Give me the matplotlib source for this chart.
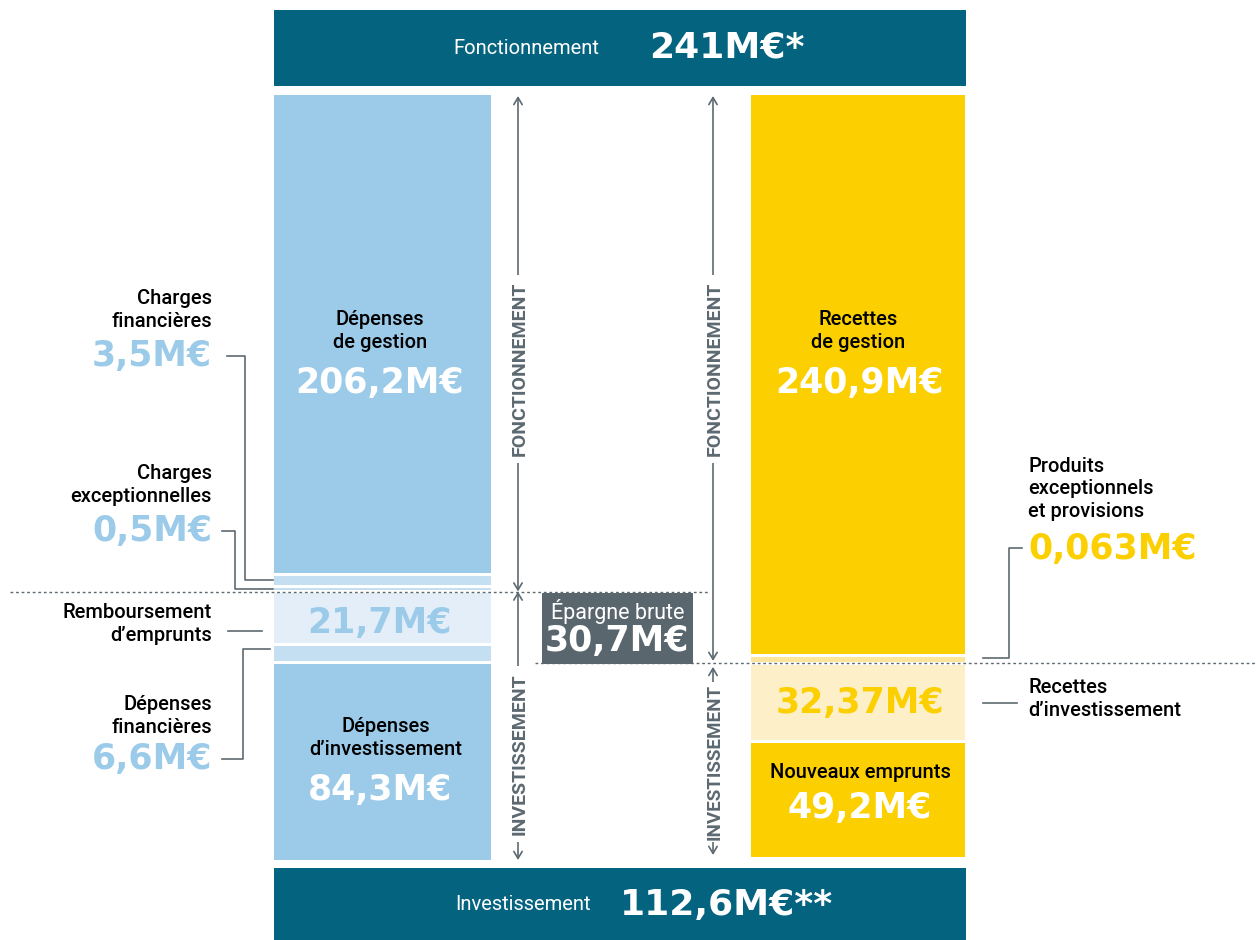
import matplotlib.pyplot as plt

# values (M€)
left_labels = ["Dépenses de gestion", "Charges financières", "Charges exceptionnelles",
               "Remboursement d’emprunts", "Dépenses financières", "Dépenses d’investissement"]
left_values = [206.2, 3.5, 0.5, 21.7, 6.6, 84.3]
right_labels = ["Recettes de gestion", "Produits exceptionnels et provisions",
                "Recettes d’investissement", "Nouveaux emprunts"]
right_values = [240.9, 0.063, 32.37, 49.2]
total_fonct = "241M€*"
total_invest = "112,6M€**"
epargne = "30,7M€"

BLUE = "#9ccbea"
BLUE_STRIP = "#c4def2"
BLUE_LIGHT = "#e3eef8"
YELLOW = "#fccf00"
YELLOW_STRIP = "#fde59a"
YELLOW_LIGHT = "#fdf0c8"
TEAL = "#04637f"
GRAY = "#5d6970"
NUMFONT = "DejaVu Sans"
TXTFONT = "Roboto"
LBL = 14.5

left_colors = [BLUE, BLUE_STRIP, BLUE_STRIP, BLUE_LIGHT, BLUE_STRIP, BLUE]
right_colors = [YELLOW, YELLOW_STRIP, YELLOW_LIGHT, YELLOW]

K = 2.32      # pixels per M€
GAP = 3
TOP = 95
MIN_H = 2

fig = plt.figure(figsize=(12.56, 9.4), dpi=100)
ax = fig.add_axes([0, 0, 1, 1])
ax.set_xlim(0, 1256)
ax.set_ylim(940, 0)
ax.axis("off")


def stack(values, colors, x0, x1, min_h):
    tops = []
    y = TOP
    for v, c in zip(values, colors):
        h = max(v * K, min_h)
        ax.bar((x0 + x1) / 2, h, bottom=y, width=x1 - x0, color=c, linewidth=0)
        tops.append((y, y + h))
        y += h + GAP
    return tops


lt = stack(left_values, left_colors, 274, 491, MIN_H)
rt = stack(right_values, right_colors, 751, 965, 5)

# banners
ax.bar(620, 76, bottom=10, width=692, color=TEAL, linewidth=0)
ax.bar(620, 72, bottom=868, width=692, color=TEAL, linewidth=0)
ax.text(526, 48, "Fonctionnement", color="white", fontsize=14.5, family=TXTFONT,
        ha="center", va="center")
ax.text(727, 48, total_fonct, color="white", fontsize=26, family=NUMFONT,
        fontweight="bold", ha="center", va="center")
ax.text(523, 905, "Investissement", color="white", fontsize=14.5, family=TXTFONT,
        ha="center", va="center")
ax.text(727, 905, total_invest, color="white", fontsize=26, family=NUMFONT,
        fontweight="bold", ha="center", va="center")

# dotted separators
y_left = lt[2][1]
y_right = rt[1][1]
ax.plot([10, 710], [y_left + 2, y_left + 2], ls=(0, (2, 2)), color=GRAY, lw=1)
ax.plot([535, 1256], [y_right + 1.5, y_right + 1.5], ls=(0, (2, 2)), color=GRAY, lw=1)

# épargne brute box
ax.bar(617, y_right - y_left - 1, bottom=y_left + 3, width=151, color="#5a666e", linewidth=0)
ax.text(618, 611, "Épargne brute", color="white", fontsize=15.5, family=TXTFONT,
        ha="center", va="center")
ax.text(617, 641, epargne, color="white", fontsize=25, family=NUMFONT,
        fontweight="bold", ha="center", va="center")


# arrows
def arrow(x, y0, y1, label, ly, size=14, pad=5):
    ax.annotate("", xy=(x, y0), xytext=(x, y1),
                arrowprops=dict(arrowstyle="<->,head_length=0.5,head_width=0.3",
                                color=GRAY, lw=1.2, shrinkA=0, shrinkB=0))
    ax.text(x + 2, ly, label, rotation=90, color=GRAY, fontsize=size,
            family=TXTFONT, fontweight="bold", ha="center", va="center",
            bbox=dict(facecolor="white", edgecolor="none", pad=pad))


arrow(518, 96, y_left + 2, "FONCTIONNEMENT", 369)
arrow(518, y_left + 2, 860, "INVESTISSEMENT", 754)
arrow(713, 96, y_right - 1, "FONCTIONNEMENT", 369)
arrow(713, y_right + 5, 855, "INVESTISSEMENT", 762, size=13.5, pad=1.5)


def fmt(v):
    return f"{v:g}".replace(".", ",") + "M€"


def label(x, y, text, ha="center"):
    ax.text(x, y, text, fontsize=LBL, family=TXTFONT, fontweight="medium",
            ha=ha, va="center", linespacing=1.25)


def value(x, y, v, color, ha="center"):
    ax.text(x, y, fmt(v), color=color, fontsize=25, family=NUMFONT,
            fontweight="bold", ha=ha, va="center")


# text inside bars
label(380, 331, "Dépenses\nde gestion")
value(380, 383, left_values[0], "white")
value(380, 623, left_values[3], BLUE)
label(386, 738, "Dépenses\nd’investissement")
value(380, 790, left_values[5], "white")

label(858, 331, "Recettes\nde gestion")
value(860, 383, right_values[0], "white")
value(860, 703, right_values[2], YELLOW)
label(860, 773, "Nouveaux emprunts")
value(860, 808, right_values[3], "white")

# left side labels
label(212, 310, "Charges\nfinancières", "right")
value(212, 356, left_values[1], BLUE, "right")
label(212, 485, "Charges\nexceptionnelles", "right")
value(212, 531, left_values[2], BLUE, "right")
label(212, 624, "Remboursement\nd’emprunts", "right")
label(212, 716, "Dépenses\nfinancières", "right")
value(212, 759, left_values[4], BLUE, "right")

# leader lines (left)
ly1 = (lt[1][0] + lt[1][1]) / 2
ax.plot([227, 245, 245, 273], [356, 356, ly1, ly1], color=GRAY, lw=1.2)
ly2 = (lt[2][0] + lt[2][1]) / 2
ax.plot([222, 235, 235, 273], [531, 531, ly2, ly2], color=GRAY, lw=1.2)
ax.plot([228, 262], [631, 631], color=GRAY, lw=1.2)
ly4 = lt[4][0] + 3
ax.plot([222, 243, 243, 270], [759, 759, ly4, ly4], color=GRAY, lw=1.2)

# right side labels
label(1028, 489, "Produits\nexceptionnels\net provisions", "left")
value(1028, 549, right_values[1], YELLOW, "left")
label(1028, 699, "Recettes\nd’investissement", "left")
ry1 = (rt[1][0] + rt[1][1]) / 2 - 1
ax.plot([1022, 1009, 1009, 983], [548, 548, ry1, ry1], color=GRAY, lw=1.2)
ax.plot([983, 1017], [703, 703], color=GRAY, lw=1.2)

fig.savefig("out.png", dpi=100)
